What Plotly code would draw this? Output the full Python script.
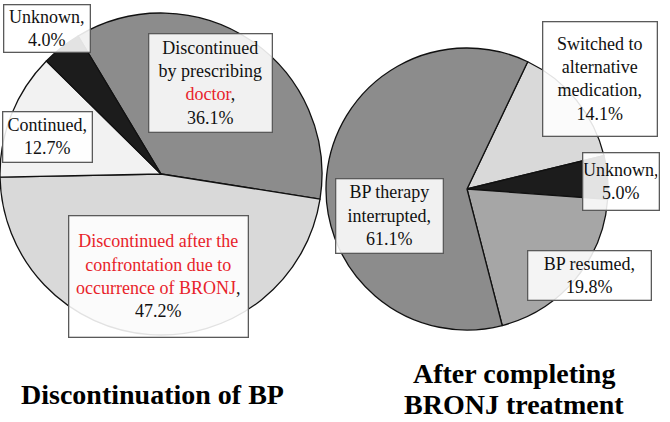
import plotly.graph_objects as go

# ---- data ----
left_labels = ["Discontinued by prescribing doctor",
               "Discontinued after the confrontation due to occurrence of BRONJ",
               "Continued", "Unknown"]
left_values = [36.1, 47.2, 12.7, 4.0]
left_title = "Discontinuation of BP"

right_labels = ["Switched to alternative medication", "Unknown",
                "BP resumed", "BP therapy interrupted"]
right_values = [14.1, 5.0, 19.8, 61.1]
right_title_lines = ["After completing", "BRONJ treatment"]

# ---- styles ----
W, H = 670, 422
FONT = "Liberation Serif"
RED = "#e8232a"
left_colors = ["#8c8c8c", "#d9d9d9", "#f2f2f2", "#1c1c1c"]
right_colors = ["#d9d9d9", "#1c1c1c", "#a6a6a6", "#8c8c8c"]

fig = go.Figure()
fig.add_trace(go.Pie(
    labels=left_labels, values=left_values, sort=False, direction="clockwise",
    rotation=-31, marker=dict(colors=left_colors, line=dict(color="#111", width=1.3)),
    textinfo="none", hoverinfo="label+percent", showlegend=False,
    domain=dict(x=[0.0, 322 / W], y=[1 - 336 / H, 1 - 12 / H])))
fig.add_trace(go.Pie(
    labels=right_labels, values=right_values, sort=False, direction="clockwise",
    rotation=25.5, marker=dict(colors=right_colors, line=dict(color="#111", width=1.3)),
    textinfo="none", hoverinfo="label+percent", showlegend=False,
    domain=dict(x=[326 / W, 608 / W], y=[1 - 330 / H, 1 - 48 / H])))

def pct(v):
    return f"{v:.1f}%"

red = lambda s: f"<span style='color:{RED}'>{s}</span>"

left_texts = [
    "Discontinued<br>by prescribing<br>" + red("doctor") + ",<br>" + pct(left_values[0]),
    red("Discontinued after the<br>confrontation due to<br>occurrence of BRONJ") + ",<br>" + pct(left_values[1]),
    "Continued,<br>" + pct(left_values[2]),
    "Unknown,<br>" + pct(left_values[3]),
]
right_texts = [
    "Switched to<br>alternative<br>medication,<br>" + pct(right_values[0]),
    "Unknown,<br>" + pct(right_values[1]),
    "BP resumed,<br>" + pct(right_values[2]),
    "BP therapy<br>interrupted,<br>" + pct(right_values[3]),
]
# box centers (px) and sizes (px)
left_boxes = [(210, 83, 124, 99), (158, 276, 180, 122), (47, 137, 90, 51), (47, 29, 87, 48)]
right_boxes = [(600, 79, 115, 115), (621, 181, 77, 58), (589, 275, 124, 50), (389, 216, 108, 75)]

for texts, boxes in ((left_texts, left_boxes), (right_texts, right_boxes)):
    for t, (cx, cy, bw, bh) in zip(texts, boxes):
        fig.add_annotation(
            x=cx / W, y=1 - cy / H, xref="paper", yref="paper",
            xanchor="center", yanchor="middle", showarrow=False,
            text=t, align="center", width=bw - 4, height=bh - 4, borderpad=1,
            bgcolor="rgba(255,255,255,0.88)", bordercolor="#5a5a5a", borderwidth=1.3,
            font=dict(family=FONT, size=18, color="#111"))

fig.add_annotation(x=152 / W, y=1 - 394 / H, xref="paper", yref="paper",
                   xanchor="center", yanchor="middle", showarrow=False,
                   text=f"<b>{left_title}</b>",
                   font=dict(family=FONT, size=28, color="#000"))
for line, bottom in zip(right_title_lines, (390, 421)):
    fig.add_annotation(x=514 / W, y=1 - bottom / H, xref="paper", yref="paper",
                       xanchor="center", yanchor="bottom", showarrow=False,
                       borderpad=0, text=f"<b>{line}</b>",
                       font=dict(family=FONT, size=28, color="#000"))

fig.update_layout(width=W, height=H, margin=dict(l=0, r=0, t=0, b=0),
                  paper_bgcolor="white", plot_bgcolor="white")
fig.write_html("out.html", post_script="document.body.style.margin='0';",
               config={"displayModeBar": False})
